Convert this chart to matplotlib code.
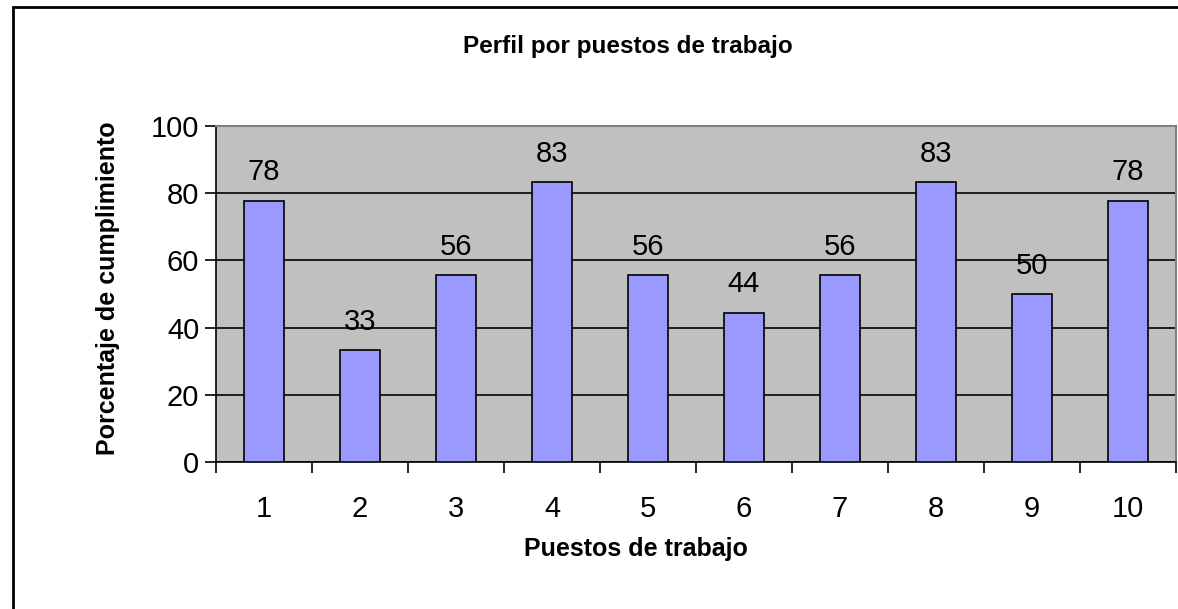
import matplotlib.pyplot as plt
from matplotlib.patches import Rectangle

# Datos del gráfico
puestos = ['1', '2', '3', '4', '5', '6', '7', '8', '9', '10']
cumplimiento = [77.8, 33.3, 55.6, 83.3, 55.6, 44.4, 55.6, 83.3, 50.0, 77.8]
etiquetas = ['78', '33', '56', '83', '56', '44', '56', '83', '50', '78']

plt.rcParams['font.family'] = ['Liberation Sans', 'DejaVu Sans']

fig = plt.figure(figsize=(11.78, 6.09), dpi=100)
ax = fig.add_axes([216 / 1178, 1 - 462 / 609, 960 / 1178, 336 / 609])

# marco exterior del gráfico
fig.patches.append(Rectangle((13 / 1178, -0.05), 1.2, 1 - 7 / 609 + 0.05,
                             transform=fig.transFigure, fill=False,
                             edgecolor='black', linewidth=2))

x = list(range(len(puestos)))
ax.set_facecolor('#C0C0C0')
ax.bar(x, cumplimiento, width=0.42, color='#9999FF', edgecolor='black',
       linewidth=1.2, zorder=3)

for xi, v, lab in zip(x, cumplimiento, etiquetas):
    ax.text(xi, v + 4.3, lab, ha='center', va='bottom', fontsize=21, zorder=4)

ax.set_xlim(-0.5, len(puestos) - 0.5)
ax.set_ylim(0, 100)
ax.set_yticks([0, 20, 40, 60, 80, 100])
ax.yaxis.grid(True, color='black', linewidth=1.2, zorder=1)
ax.set_axisbelow(True)

# ticks del eje x entre categorías
ax.set_xticks([i - 0.5 for i in range(len(puestos) + 1)])
ax.set_xticklabels([])
ax.set_xticks(x, minor=True)
ax.set_xticklabels(puestos, minor=True)
ax.tick_params(axis='x', which='major', direction='out', length=8, width=1.2)
ax.tick_params(axis='x', which='minor', length=0, labelsize=21, pad=24)
ax.tick_params(axis='y', direction='out', length=8, width=1.2, labelsize=21, pad=4)

for s in ['top', 'right']:
    ax.spines[s].set_color('#808080')
    ax.spines[s].set_linewidth(1.5)
for s in ['left', 'bottom']:
    ax.spines[s].set_color('black')
    ax.spines[s].set_linewidth(1.2)

ax.set_xlabel('Puestos de trabajo', fontsize=18, fontweight='bold', labelpad=10)
ax.xaxis.label.set_x(0.4375)
ax.set_ylabel('Porcentaje de cumplimiento', fontsize=18, fontweight='bold', labelpad=22)
ax.yaxis.label.set_y(0.518)
fig.text(628 / 1178, 1 - 46 / 609, 'Perfil por puestos de trabajo',
         ha='center', va='center', fontsize=17.5, fontweight='bold')

fig.savefig('out.png', dpi=100)
